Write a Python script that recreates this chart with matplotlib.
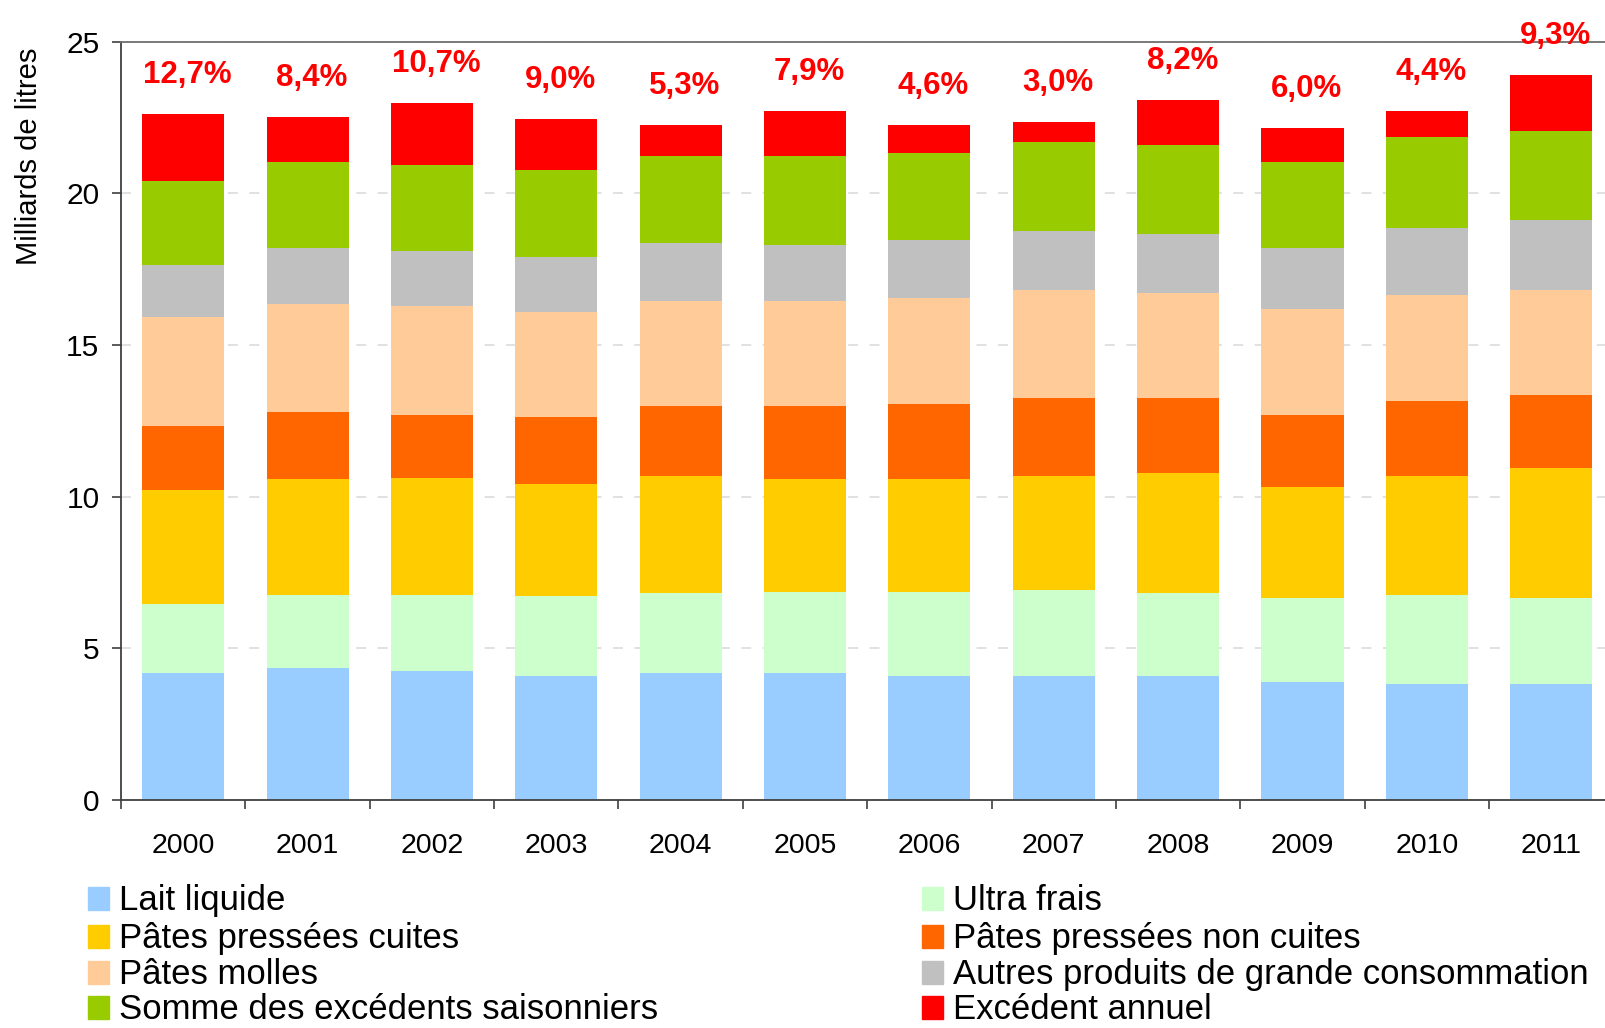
import numpy as np
import matplotlib
matplotlib.use("Agg")
import matplotlib.pyplot as plt
from matplotlib.patches import Rectangle

plt.rcParams['font.family'] = ['Liberation Sans', 'DejaVu Sans']

# Data (milliards de litres)
years = ['2000', '2001', '2002', '2003', '2004', '2005',
         '2006', '2007', '2008', '2009', '2010', '2011']
lait = [4.19, 4.35, 4.25, 4.09, 4.19, 4.19, 4.09, 4.09, 4.09, 3.89, 3.82, 3.82]
ultra = [2.27, 2.41, 2.51, 2.64, 2.63, 2.67, 2.77, 2.83, 2.73, 2.77, 2.94, 2.84]
ppc = [3.76, 3.82, 3.86, 3.69, 3.86, 3.72, 3.72, 3.76, 3.96, 3.66, 3.92, 4.29]
ppnc = [2.11, 2.21, 2.07, 2.21, 2.31, 2.41, 2.48, 2.57, 2.47, 2.37, 2.48, 2.40]
molles = [3.59, 3.56, 3.60, 3.46, 3.46, 3.46, 3.49, 3.56, 3.47, 3.50, 3.49, 3.46]
autres = [1.72, 1.85, 1.81, 1.81, 1.91, 1.85, 1.91, 1.95, 1.94, 2.01, 2.21, 2.31]
somme = [2.77, 2.83, 2.84, 2.87, 2.87, 2.93, 2.87, 2.93, 2.94, 2.83, 3.00, 2.94]
excedent = [2.21, 1.49, 2.04, 1.68, 1.02, 1.49, 0.92, 0.66, 1.48, 1.13, 0.86, 1.84]
pct_labels = ['12,7%', '8,4%', '10,7%', '9,0%', '5,3%', '7,9%',
              '4,6%', '3,0%', '8,2%', '6,0%', '4,4%', '9,3%']

series_names = ['Lait liquide', 'Ultra frais', 'Pâtes pressées cuites',
                'Pâtes pressées non cuites', 'Pâtes molles',
                'Autres produits de grande consommation',
                'Somme des excédents saisonniers', 'Excédent annuel']
series_vals = [lait, ultra, ppc, ppnc, molles, autres, somme, excedent]
colors = ['#99CCFF', '#CCFFCC', '#FFCC00', '#FF6600', '#FFCC99',
          '#C0C0C0', '#99CC00', '#FF0000']

W, H = 1606, 1028
fig = plt.figure(figsize=(W / 100, H / 100), dpi=100)
# axes slightly wider than the figure on the right, like the cropped original
ax = fig.add_axes([121 / W, 1 - 800 / H, (1613.4 - 121) / W, (800 - 41.7) / H])

x = np.arange(len(years))
bottom = np.zeros(len(years))
for name, vals, col in zip(series_names, series_vals, colors):
    ax.bar(x, vals, width=0.66, bottom=bottom, color=col, label=name, zorder=2)
    bottom += np.array(vals)

# percentage labels above each bar
for xi, top, lab in zip(x, bottom, pct_labels):
    ax.annotate(lab, (xi, top), xytext=(3, 28), textcoords='offset points',
                ha='center', va='center', color='#FF0000', fontsize=22.5,
                fontweight='bold', annotation_clip=False)

ax.set_xlim(-0.5, len(years) - 0.5)
ax.set_ylim(0, 25)
ax.set_yticks(range(0, 26, 5))
ax.set_xticks(x)
ax.set_xticklabels(years)
ax.set_xticks(np.arange(-0.5, len(years), 1.0), minor=True)
ax.tick_params(axis='x', which='major', length=0, pad=24, labelsize=20.5)
ax.tick_params(axis='x', which='minor', length=6.5, width=1.2,
               direction='out', color='#404040')
ax.tick_params(axis='y', length=6.5, width=1.2, direction='out',
               color='#404040', pad=9, labelsize=21.5)

ax.yaxis.grid(True, color='#D9D9D9', linewidth=1.1, linestyle=(0, (6.5, 7.5)), zorder=0)
ax.set_axisbelow(True)

for side in ['left', 'bottom']:
    ax.spines[side].set_color('#404040')
    ax.spines[side].set_linewidth(1.3)
ax.spines['top'].set_color('#707070')
ax.spines['top'].set_linewidth(1.3)
ax.spines['right'].set_visible(False)

fig.text(29 / W, 1 - 156 / H, 'Milliards de litres', rotation=90,
         ha='center', va='center', fontsize=21)

# legend laid out row by row, two columns
col_x = [88, 922]
row_base = [910, 948, 984, 1019]
for i, (name, col) in enumerate(zip(series_names, colors)):
    r, c = divmod(i, 2)
    mx = col_x[c]
    by = row_base[r]
    fig.add_artist(Rectangle((mx / W, 1 - by / H), 21 / W, 23 / H,
                             transform=fig.transFigure, color=col))
    fig.text((mx + 31) / W, 1 - by / H, name, ha='left', va='baseline',
             fontsize=25)

fig.savefig('out.png', dpi=100)
